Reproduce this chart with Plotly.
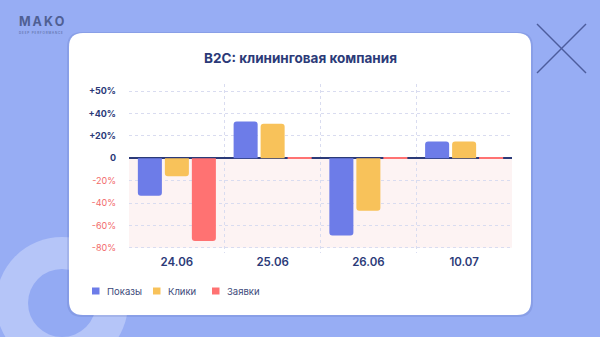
import plotly.graph_objects as go

# ---------------- data ----------------
categories = ["24.06", "25.06", "26.06", "10.07"]
series_names = ["Показы", "Клики", "Заявки"]
pokazy = [-33.5, 33, -69, 15]
kliki = [-16, 31, -47, 15]
zayavki = [-74, 0.8, 0.8, 0.8]
tick_values = [60, 40, 20, 0, -20, -40, -60, -80]
tick_labels = ["+50%", "+40%", "+20%", "0", "-20%", "-40%", "-60%", "-80%"]
title_text = "B2C: клининговая компания"

# ---------------- styles ----------------
W, H = 600, 337
L, R, T, B = 129, 512, 84, 253
BG = "#97adf4"
NAVY = "#2b3a78"
NEG = "#f26b6b"
colors = ["#6d7ce8", "#f8c25a", "#ff7272"]
FONT = "Inter"


def px(x):
    return (x - L) / (R - L)


def py(y):
    return (B - y) / (B - T)


def rounded_rect(x0, y0, x1, y1, r):
    # pixel coords (y down) -> paper path
    rx = r / (R - L)
    ry = r / (B - T)
    X0, X1 = px(x0), px(x1)
    Y0, Y1 = py(y0), py(y1)  # Y0 top (larger), Y1 bottom
    return (f"M{X0+rx},{Y0} L{X1-rx},{Y0} Q{X1},{Y0} {X1},{Y0-ry} "
            f"L{X1},{Y1+ry} Q{X1},{Y1} {X1-rx},{Y1} L{X0+rx},{Y1} "
            f"Q{X0},{Y1} {X0},{Y1+ry} L{X0},{Y0-ry} Q{X0},{Y0} {X0+rx},{Y0} Z")


fig = go.Figure()
for name, vals, col in zip(series_names, [pokazy, kliki, zayavki], colors):
    fig.add_trace(go.Bar(x=categories, y=vals, name=name, marker=dict(color=col, line=dict(width=0)),
                         showlegend=False))

shapes = []
# decorative circles bottom-left
shapes.append(dict(type="circle", xref="paper", yref="paper", layer="below",
                   x0=px(62 - 66), x1=px(62 + 66), y0=py(303 + 66), y1=py(303 - 66),
                   fillcolor="#b5c5f8", line=dict(width=0)))
shapes.append(dict(type="circle", xref="paper", yref="paper", layer="below",
                   x0=px(62 - 34), x1=px(62 + 34), y0=py(303 + 34), y1=py(303 - 34),
                   fillcolor="#93aaf3", line=dict(width=0)))
# card shadow + card
shapes.append(dict(type="path", xref="paper", yref="paper", layer="below",
                   path=rounded_rect(67, 32, 533, 317, 15), fillcolor="rgba(40,60,140,0.12)",
                   line=dict(width=0)))
shapes.append(dict(type="path", xref="paper", yref="paper", layer="below",
                   path=rounded_rect(69, 33, 531, 315, 14), fillcolor="white",
                   line=dict(width=0)))
# pink negative zone
shapes.append(dict(type="rect", xref="paper", yref="y", layer="below",
                   x0=0, x1=1, y0=-80, y1=0, fillcolor="#fdf3f3", line=dict(width=0)))
# decorative X
for (a, b, c, d) in [(537, 24, 586, 73), (586, 24, 537, 73)]:
    shapes.append(dict(type="line", xref="paper", yref="paper", layer="below",
                       x0=px(a), y0=py(b), x1=px(c), y1=py(d),
                       line=dict(color="#4d5d9c", width=1.5)))

annotations = []
annotations.append(dict(text=f"<b>{title_text}</b>", xref="paper", yref="paper",
                        x=px(300), y=py(58), showarrow=False, xanchor="center", yanchor="middle",
                        font=dict(family=FONT, size=13.5, color=NAVY)))
# logo
annotations.append(dict(text="<b>M\u2009A\u2009K\u2009O</b>", xref="paper", yref="paper",
                        x=px(17), y=py(21.5), showarrow=False, xanchor="left", yanchor="middle",
                        font=dict(family=FONT, size=12.5, color="#4f5f93")))
annotations.append(dict(text="D E E P   P E R F O R M A N C E", xref="paper", yref="paper",
                        x=px(17), y=py(32.5), showarrow=False, xanchor="left", yanchor="middle",
                        font=dict(family=FONT, size=3, color="#4f5f93")))

# legend built from series names
legend_x = [92, 153, 212]
for name, col, lx in zip(series_names, colors, legend_x):
    shapes.append(dict(type="rect", xref="paper", yref="paper", layer="above",
                       x0=px(lx), x1=px(lx + 7.5), y0=py(294.5), y1=py(287.5),
                       fillcolor=col, line=dict(width=0)))
    annotations.append(dict(text=name, xref="paper", yref="paper", x=px(lx + 13), y=py(291),
                            showarrow=False, xanchor="left", yanchor="middle",
                            font=dict(family=FONT, size=9.5, color="#3d4a7a")))

ticktext = []
for v, t in zip(tick_values, tick_labels):
    if v < 0:
        ticktext.append(f"<span style='color:{NEG}'>{t}</span>")
    else:
        ticktext.append(f"<b>{t}</b>")

fig.update_layout(
    width=W, height=H,
    margin=dict(l=L, r=W - R, t=T, b=H - B, pad=0),
    paper_bgcolor=BG, plot_bgcolor="rgba(0,0,0,0)",
    barmode="group", bargap=0.154, bargroupgap=0.11, barcornerradius=3,
    shapes=shapes, annotations=annotations, showlegend=False,
    font=dict(family=FONT, color=NAVY),
    xaxis=dict(type="category", tickson="boundaries", showgrid=True,
               gridcolor="#d9dcf0", griddash="dot", gridwidth=1,
               showline=False, zeroline=False, ticks="", ticklen=0,
               tickfont=dict(family=FONT, size=11.5, color=NAVY, weight=600),
               range=[-0.5, 3.5], fixedrange=True),
    yaxis=dict(range=[-84.7, 66.5], tickmode="array", tickvals=tick_values, ticktext=ticktext,
               showgrid=True, gridcolor="#d9dcf0", griddash="dot", gridwidth=1,
               zeroline=True, zerolinecolor=NAVY, zerolinewidth=1.5,
               showline=False, ticks="", ticklabelstandoff=12,
               tickfont=dict(family=FONT, size=9, color=NAVY), fixedrange=True),
)

fig.write_html("out.html", config=dict(displayModeBar=False))
